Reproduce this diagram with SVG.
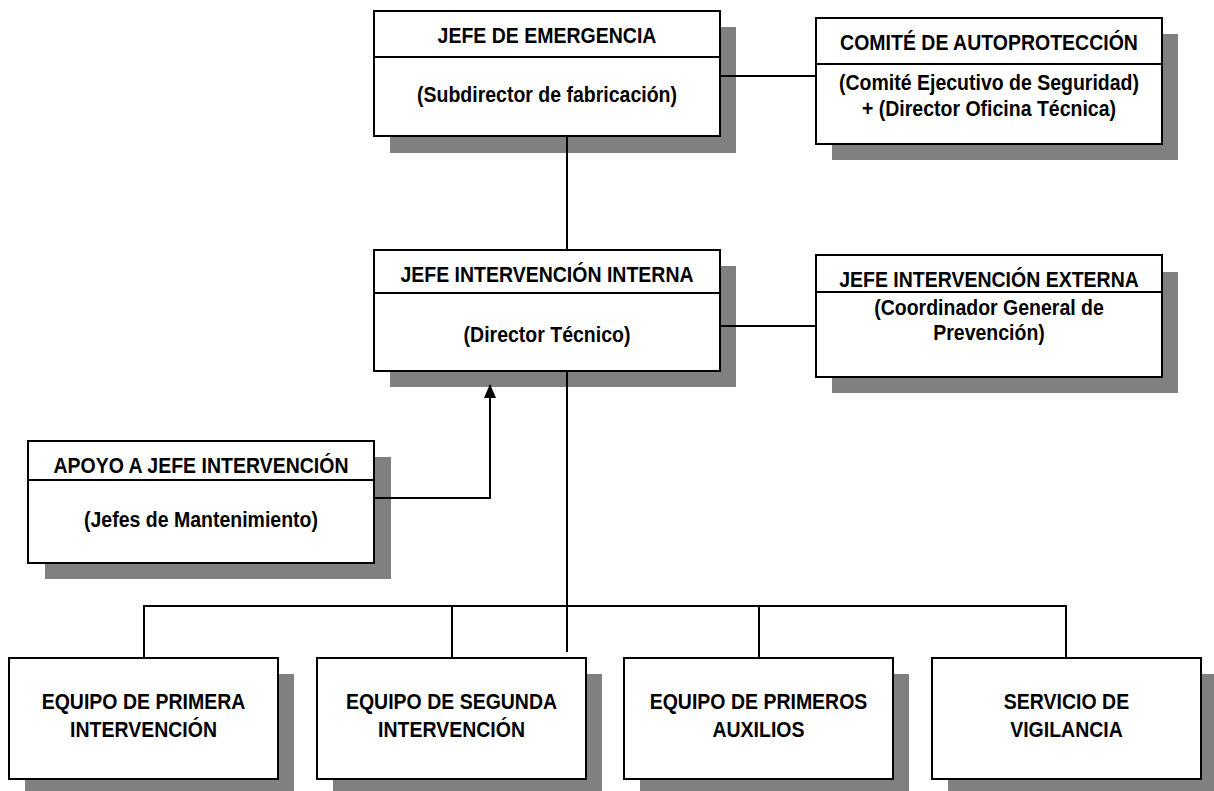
<svg xmlns="http://www.w3.org/2000/svg" width="1214" height="791" viewBox="0 0 1214 791">
<style>
.sh{fill:#808080;stroke:none}
.bx{fill:#fff;stroke:#000;stroke-width:2}
.dv{stroke:#000;stroke-width:2}
.t{font-family:"Liberation Sans",Arial,sans-serif;font-weight:bold;font-size:21.2px;fill:#000;text-anchor:middle}
.c{fill:none;stroke:#000;stroke-width:2}
</style>
<defs>
<marker id="ah" markerWidth="12" markerHeight="14" refX="6" refY="1" orient="0" markerUnits="userSpaceOnUse">
<path d="M6,0 L12,14 L0,14 Z" fill="#000"/>
</marker>
</defs>
<rect width="1214" height="791" fill="#fff"/>
<g id="shadows">
<rect class="sh" x="390" y="27" width="346" height="126"/>
<rect class="sh" x="832" y="34" width="346" height="126"/>
<rect class="sh" x="390" y="266" width="346" height="121"/>
<rect class="sh" x="832" y="272" width="346" height="121"/>
<rect class="sh" x="45" y="457" width="346" height="122"/>
<rect class="sh" x="25" y="674" width="269" height="117"/>
<rect class="sh" x="333" y="674" width="269" height="117"/>
<rect class="sh" x="640" y="674" width="269" height="117"/>
<rect class="sh" x="948" y="674" width="266" height="117"/>
</g>
<g id="connectors">
<path class="c" d="M567,136 V250"/>
<path class="c" d="M720,76 H816"/>
<path class="c" d="M720,326 H816"/>
<path class="c" d="M374,498 H490 V385" marker-end="url(#ah)"/>
<path class="c" d="M567,371 V652"/>
<path class="c" d="M144,658 V606 H1066 V658"/>
<path class="c" d="M452,606 V658"/>
<path class="c" d="M759,606 V658"/>
</g>
<g id="jefe-emergencia">
<rect class="bx" x="374" y="11" width="346" height="125"/>
<line class="dv" x1="374" y1="57" x2="720" y2="57"/>
<text class="t" transform="translate(547,43) scale(0.92,1)">JEFE DE EMERGENCIA</text>
<text class="t" transform="translate(547,102) scale(0.92,1)">(Subdirector de fabricación)</text>
</g>
<g id="comite-autoproteccion">
<rect class="bx" x="816" y="18" width="346" height="126"/>
<line class="dv" x1="816" y1="64" x2="1162" y2="64"/>
<text class="t" transform="translate(989,50) scale(0.92,1)">COMITÉ DE AUTOPROTECCIÓN</text>
<text class="t" transform="translate(989,90) scale(0.92,1)">(Comité Ejecutivo de Seguridad)</text>
<text class="t" transform="translate(989,116) scale(0.92,1)">+ (Director Oficina Técnica)</text>
</g>
<g id="jefe-intervencion-interna">
<rect class="bx" x="374" y="250" width="346" height="121"/>
<line class="dv" x1="374" y1="293" x2="720" y2="293"/>
<text class="t" transform="translate(547,282) scale(0.92,1)">JEFE INTERVENCIÓN INTERNA</text>
<text class="t" transform="translate(547,342) scale(0.92,1)">(Director Técnico)</text>
</g>
<g id="jefe-intervencion-externa">
<rect class="bx" x="816" y="255" width="346" height="122"/>
<line class="dv" x1="816" y1="292" x2="1162" y2="292"/>
<text class="t" transform="translate(989,287) scale(0.92,1)">JEFE INTERVENCIÓN EXTERNA</text>
<text class="t" transform="translate(989,315) scale(0.92,1)">(Coordinador General de</text>
<text class="t" transform="translate(989,340) scale(0.92,1)">Prevención)</text>
</g>
<g id="apoyo-jefe-intervencion">
<rect class="bx" x="28" y="441" width="346" height="122"/>
<line class="dv" x1="28" y1="480" x2="374" y2="480"/>
<text class="t" transform="translate(201,473) scale(0.92,1)">APOYO A JEFE INTERVENCIÓN</text>
<text class="t" transform="translate(201,527) scale(0.92,1)">(Jefes de Mantenimiento)</text>
</g>
<g id="equipo-primera-intervencion">
<rect class="bx" x="9" y="658" width="269" height="121"/>
<text class="t" transform="translate(143.5,709) scale(0.92,1)">EQUIPO DE PRIMERA</text>
<text class="t" transform="translate(143.5,737) scale(0.92,1)">INTERVENCIÓN</text>
</g>
<g id="equipo-segunda-intervencion">
<rect class="bx" x="317" y="658" width="269" height="121"/>
<text class="t" transform="translate(451.5,709) scale(0.92,1)">EQUIPO DE SEGUNDA</text>
<text class="t" transform="translate(451.5,737) scale(0.92,1)">INTERVENCIÓN</text>
</g>
<g id="equipo-primeros-auxilios">
<rect class="bx" x="624" y="658" width="269" height="121"/>
<text class="t" transform="translate(758.5,709) scale(0.92,1)">EQUIPO DE PRIMEROS</text>
<text class="t" transform="translate(758.5,737) scale(0.92,1)">AUXILIOS</text>
</g>
<g id="servicio-vigilancia">
<rect class="bx" x="932" y="658" width="269" height="121"/>
<text class="t" transform="translate(1066.5,709) scale(0.92,1)">SERVICIO DE</text>
<text class="t" transform="translate(1066.5,737) scale(0.92,1)">VIGILANCIA</text>
</g>
</svg>
